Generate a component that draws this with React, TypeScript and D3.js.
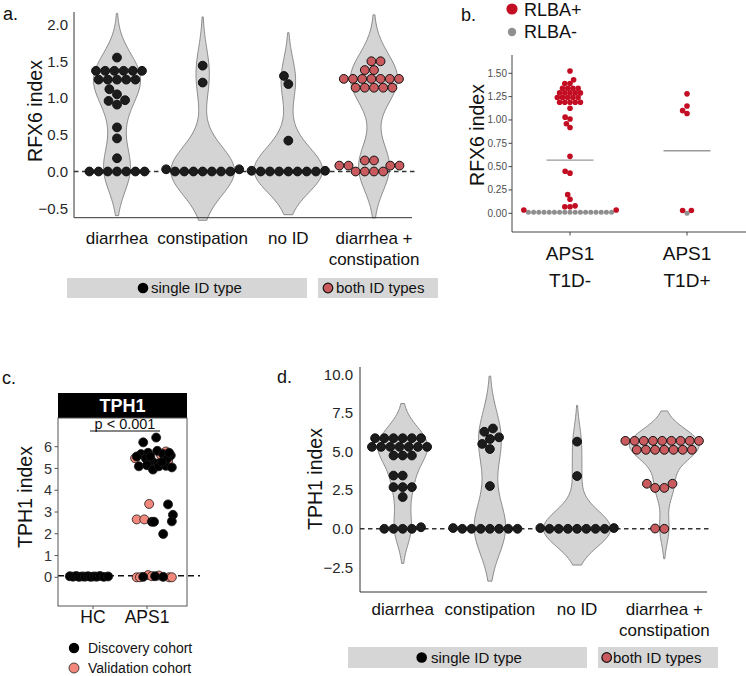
import React from "react";
import * as d3 from "d3";

const FONT = "'Liberation Sans', Arial, Helvetica, sans-serif";

// ---------- Panel a data (RFX6 index by ID type) ----------
const aCategories = ["diarrhea", "constipation", "no ID", "diarrhea + constipation"];
const aDiarrhea = [0, 0, 0, 0, 0, 0, 0, 0.18, 0.45, 0.6, 0.91, 0.96, 0.97, 1.05, 1.12, 1.25, 1.25, 1.25, 1.25, 1.25, 1.37, 1.37, 1.37, 1.37, 1.37, 1.37, 1.55];
const aConstipation = [0, 0, 0, 0, 0, 0, 0, 0.03, 0.03, 1.21, 1.44];
const aNoID = [0, 0, 0, 0, 0, 0, 0, 0.01, 0.01, 0.42, 1.19, 1.3];
const aBoth = [0, 0, 0, 0, 0.08, 0.08, 0.08, 0.08, 0.15, 0.15, 1.14, 1.14, 1.14, 1.14, 1.14, 1.26, 1.26, 1.26, 1.26, 1.26, 1.26, 1.26, 1.38, 1.38, 1.5, 1.5];
const aTicks = [-0.5, 0, 0.5, 1, 1.5, 2];

// ---------- Panel b data (RFX6 index, RLBA status) ----------
const bCategories = ["APS1 T1D-", "APS1 T1D+"];
const bNegRed = [1.525, 1.43, 1.39, 1.39, 1.34, 1.34, 1.34, 1.34, 1.29, 1.29, 1.29, 1.29, 1.29, 1.24, 1.24, 1.24, 1.24, 1.24, 1.19, 1.19, 1.19, 1.19, 1.19, 1.125, 1.03, 1.01, 0.96, 0.92, 0.61, 0.45, 0.43, 0.2, 0.15, 0.08, 0.07, 0.07, 0.036, 0.036];
const bNegGrey = [0.01, 0.01, 0.01, 0.01, 0.01, 0.01, 0.01, 0.01, 0.01, 0.01, 0.01, 0.01, 0.01, 0.01, 0.01, 0.01, 0.01];
const bPosRed = [1.28, 1.15, 1.1, 1.07, 0.03, 0.03];
const bPosGrey = [0.0];
const bMeans = [0.57, 0.67];
const bTicks = [0, 0.25, 0.5, 0.75, 1, 1.25, 1.5];

// ---------- Panel c data (TPH1 index, cohorts) ----------
const cCategories = ["HC", "APS1"];
const cHCDiscovery = [0.05, 0.03, 0.06, 0.02, 0.04, 0.03, 0.05, 0.02, 0.04, 0.03, 0.06, 0.02, 0.04];
const cHCDiscoveryJitter = [-0.43, -0.37, -0.31, -0.26, -0.2, -0.15, -0.09, -0.04, 0.02, 0.07, 0.13, 0.2, 0.28];
const cAPSDiscovery = [6.2, 6.42, 5.66, 5.72, 5.81, 5.66, 5.6, 5.46, 5.35, 5.23, 5.1, 5.15, 4.95, 5.1, 5.12, 5.05, 5.45, 5.3, 5.72, 5.55, 5.55, 3.35, 2.55, 2.55, 2.87, 2.57, 1.99, 0.02, 0.05, 0.02];
const cAPSDiscoveryJitter = [-0.07, 0.17, -0.11, 0.02, 0.19, 0.3, 0.44, -0.02, 0.09, 0.2, -0.15, 0, 0.11, 0.22, 0.35, 0.46, 0.37, 0.28, 0.41, 0.06, -0.19, 0.39, 0.09, 0.13, 0.48, 0.46, 0.3, -0.07, 0.15, 0.3];
const cAPSValidation = [5.47, 5.78, 5.5, 5.35, 5.62, 3.37, 2.66, 2.66, 0.0, 0.0, 0.1, 0.05, 0.08, 0.0, 0.0];
const cAPSValidationJitter = [-0.22, 0.35, 0.3, 0.39, 0.26, 0.04, -0.19, -0.05, -0.19, -0.13, 0.02, 0.09, 0.22, 0.41, 0.46];
const cTicks = [0, 1, 2, 3, 4, 5, 6];
const cRefLine = 0.07;

// ---------- Panel d data (TPH1 index by ID type) ----------
const dDiarrhea = [0, 0, 0, 0, 0.1, 2.06, 2.7, 2.7, 2.7, 3.45, 3.45, 4.75, 4.75, 4.75, 5.31, 5.31, 5.31, 5.31, 5.31, 5.31, 5.31, 5.87, 5.87, 5.87, 5.87, 5.87, 5.87];
const dConstipation = [0, 0, 0, 0, 0, 0, 0, 0.05, 2.77, 5.17, 5.5, 5.82, 5.93, 6.29, 6.5];
const dNoID = [0, 0, 0, 0, 0, 0, 0, 0.05, 0.05, 3.42, 5.65];
const dBoth = [0, 0.02, 2.65, 2.65, 2.92, 2.92, 5.12, 5.12, 5.12, 5.12, 5.12, 5.12, 5.12, 5.7, 5.7, 5.7, 5.7, 5.7, 5.7, 5.7, 5.7, 5.7];
const dTicks = [-2.5, 0, 2.5, 5, 7.5, 10];

const SINGLE = "#1c1c1c";
const BOTH = "#c95a5e";
const RED = "#c30d23";
const GREY = "#8f8f8f";
const PINK = "#f2877b";

function kde(vals: number[], cut = 2, grid = 100) {
  const n = vals.length;
  const sd = d3.deviation(vals) ?? 0;
  const bw = sd * Math.pow(n, -0.2);
  const lo = (d3.min(vals) as number) - cut * bw;
  const hi = (d3.max(vals) as number) + cut * bw;
  const norm = 1 / (bw * Math.sqrt(2 * Math.PI));
  return d3.range(grid).map((i) => {
    const y = lo + ((hi - lo) * i) / (grid - 1);
    const dens = (d3.mean(vals, (v) => Math.exp(-0.5 * ((y - v) / bw) ** 2)) as number) * norm;
    return { y, dens };
  });
}

function beeswarm(vals: number[], ypx: (v: number) => number, d: number): number[] {
  const idx = vals.map((_, i) => i).sort((a, b) => vals[a] - vals[b]);
  const placed: { x: number; y: number }[] = [];
  const out: number[] = new Array(vals.length).fill(0);
  for (const i of idx) {
    const y = ypx(vals[i]);
    const cands = [0];
    for (const p of placed) {
      const dy = Math.abs(p.y - y);
      if (dy < d) {
        const dx = Math.sqrt(d * d - dy * dy);
        cands.push(p.x + dx, p.x - dx);
      }
    }
    cands.sort((a, b) => Math.abs(a) - Math.abs(b) || a - b);
    let best = 0;
    for (const c of cands) {
      if (placed.every((p) => (p.x - c) ** 2 + (p.y - y) ** 2 >= d * d - 1e-3)) {
        best = c;
        break;
      }
    }
    placed.push({ x: best, y });
    out[i] = best;
  }
  return out;
}

type VProps = {
  cats: string[];
  groups: number[][];
  fills: string[];
  ticks: number[];
  y0: number;
  y1: number;
  yv1: number;
  xFirst: number;
  xLast: number;
  axisX: number;
  axisTop: number;
  axisBottom: number;
  axisRight: number;
  tickX: number;
  labelY: number;
  title: string;
  titleX: number;
  titleY: number;
  letter: string;
  letterX: number;
  letterY: number;
  leg: { y: number; h: number; r1: [number, number]; r2: [number, number]; c1: number; t1: number; c2: number; t2: number };
};

function ViolinPanel(p: VProps) {
  const y = d3.scaleLinear().domain([0, p.yv1]).range([p.y0, p.y1]);
  const x = d3.scalePoint<string>().domain(p.cats).range([p.xFirst, p.xLast]);
  const step = (p.xLast - p.xFirst) / (p.cats.length - 1);
  const halfW = 0.4 * step;
  const dens = p.groups.map((g) => kde(g));
  const maxD = d3.max(dens.flat(), (d) => d.dens) as number;
  const w = d3.scaleLinear().domain([0, maxD]).range([0, halfW]);
  const r = 4.4;
  const collide = 9.2;
  return (
    <g>
      {dens.map((dd, i) => {
        const cx = x(p.cats[i]) as number;
        const area = d3
          .area<{ y: number; dens: number }>()
          .y((d) => y(d.y))
          .x0((d) => cx - w(d.dens))
          .x1((d) => cx + w(d.dens));
        return <path key={i} d={area(dd) as string} fill="#d4d4d4" stroke="#8a8a8a" strokeWidth={1} />;
      })}
      <line x1={p.axisX} x2={p.axisRight + 4} y1={y(0)} y2={y(0)} stroke="#333" strokeWidth={1.4} strokeDasharray="4.5,3.5" />
      {p.groups.map((g, i) => {
        const cx = x(p.cats[i]) as number;
        const off = beeswarm(g, (v) => y(v), collide);
        return g.map((v, j) => (
          <circle key={`${i}-${j}`} cx={cx + off[j]} cy={y(v)} r={r} fill={p.fills[i]} stroke="#111" strokeWidth={1} />
        ));
      })}
      <line x1={p.axisX} x2={p.axisX} y1={p.axisTop} y2={p.axisBottom} stroke="#333" strokeWidth={1} />
      <line x1={p.axisX} x2={p.axisRight} y1={p.axisBottom} y2={p.axisBottom} stroke="#333" strokeWidth={1} />
      {p.ticks.map((t) => (
        <text key={t} x={p.tickX} y={y(t)} dy="0.35em" textAnchor="end" fontSize={15} fill="#262626">
          {t < 0 ? "\u2212" + Math.abs(t).toFixed(1) : t.toFixed(1)}
        </text>
      ))}
      {p.cats.map((c) => {
        const lines = c.includes("+") ? [c.slice(0, c.indexOf("+") + 1), c.slice(c.indexOf("+") + 2)] : [c];
        return lines.map((ln, k) => (
          <text key={c + k} x={x(c) as number} y={p.labelY + k * 21} textAnchor="middle" fontSize={17} fill="#111">
            {ln}
          </text>
        ));
      })}
      <text transform={`translate(${p.titleX},${p.titleY}) rotate(-90)`} textAnchor="middle" dy="0.35em" fontSize={19.5} fill="#111">
        {p.title}
      </text>
      <text x={p.letterX} y={p.letterY} fontSize={18} fill="#111">
        {p.letter}
      </text>
      <rect x={p.leg.r1[0]} y={p.leg.y} width={p.leg.r1[1] - p.leg.r1[0]} height={p.leg.h} fill="#d6d6d6" />
      <rect x={p.leg.r2[0]} y={p.leg.y} width={p.leg.r2[1] - p.leg.r2[0]} height={p.leg.h} fill="#d6d6d6" />
      <circle cx={p.leg.c1} cy={p.leg.y + p.leg.h / 2} r={5.3} fill="#000" />
      <text x={p.leg.t1} y={p.leg.y + p.leg.h / 2} dy="0.35em" fontSize={15} fill="#111">
        single ID type
      </text>
      <circle cx={p.leg.c2} cy={p.leg.y + p.leg.h / 2} r={4.8} fill={BOTH} stroke="#111" strokeWidth={1.2} />
      <text x={p.leg.t2} y={p.leg.y + p.leg.h / 2} dy="0.35em" fontSize={15} fill="#111">
        both ID types
      </text>
    </g>
  );
}

function PanelB() {
  const y = d3.scaleLinear().domain([0, 1.5]).range([213.3, 73.3]);
  const x = d3.scalePoint<string>().domain(bCategories).range([570, 687]);
  const groups = [
    { red: bNegRed, grey: bNegGrey },
    { red: bPosRed, grey: bPosGrey },
  ];
  return (
    <g>
      {groups.map((g, i) => {
        const cx = x(bCategories[i]) as number;
        const vals = [...g.grey, ...g.red];
        const off = beeswarm(vals, (v) => y(v), 5.2);
        return (
          <g key={i}>
            <line x1={cx - 23.5} x2={cx + 23.5} y1={y(bMeans[i])} y2={y(bMeans[i])} stroke="#9a9a9a" strokeWidth={1.3} />
            {vals.map((v, j) => (
              <circle key={j} cx={cx + off[j]} cy={y(v)} r={j < g.grey.length ? 2.5 : 2.8} fill={j < g.grey.length ? GREY : RED} />
            ))}
          </g>
        );
      })}
      <line x1={512} x2={512} y1={55} y2={232} stroke="#444" strokeWidth={1} />
      <line x1={512} x2={746} y1={232} y2={232} stroke="#444" strokeWidth={1} />
      {bTicks.map((t) => (
        <g key={t}>
          <line x1={508.5} x2={512} y1={y(t)} y2={y(t)} stroke="#444" />
          <text x={507} y={y(t)} dy="0.35em" textAnchor="end" fontSize={10} fill="#4d4d4d">
            {t.toFixed(2)}
          </text>
        </g>
      ))}
      {bCategories.map((c) => {
        const cx = x(c) as number;
        const [l1, l2] = c.split(" ");
        return (
          <g key={c}>
            <line x1={cx} x2={cx} y1={232} y2={235.5} stroke="#444" />
            <text x={cx} y={260} textAnchor="middle" fontSize={19} fill="#111">
              {l1}
            </text>
            <text x={cx} y={287} textAnchor="middle" fontSize={19} fill="#111">
              {l2}
            </text>
          </g>
        );
      })}
      <text transform="translate(477,135) rotate(-90)" textAnchor="middle" dy="0.35em" fontSize={19.5} fill="#111">
        RFX6 index
      </text>
      <text x={461} y={21} fontSize={18} fill="#111">
        b.
      </text>
      <circle cx={512} cy={9} r={5.6} fill={RED} />
      <text x={524} y={9.5} dy="0.36em" fontSize={18} fill="#111">
        RLBA+
      </text>
      <circle cx={512} cy={32} r={4.2} fill={GREY} />
      <text x={524} y={32} dy="0.36em" fontSize={18} fill="#111">
        RLBA-
      </text>
    </g>
  );
}

function PanelC() {
  const y = d3.scaleLinear().domain([0, 6]).range([577.3, 446.7]);
  const x = d3.scalePoint<string>().domain(cCategories).range([93, 147]);
  const j = d3.scaleLinear().domain([-0.5, 0.5]).range([-27, 27]);
  const dot = (cat: string, v: number, jit: number, fill: string, k: string) => (
    <circle key={k} cx={(x(cat) as number) + j(jit)} cy={y(v)} r={4.5} fill={fill} stroke="#1a1a1a" strokeWidth={0.8} />
  );
  return (
    <g>
      <text x={2} y={384} fontSize={18} fill="#111">
        c.
      </text>
      <rect x={58} y={393} width={129} height={25} fill="#000" />
      <text x={122.5} y={411.5} textAnchor="middle" fontSize={18} fontWeight="bold" fill="#fff">
        TPH1
      </text>
      <text x={125} y={429} textAnchor="middle" fontSize={14.5} fill="#111">
        p &lt; 0.001
      </text>
      <line x1={90} x2={160} y1={431} y2={431} stroke="#111" strokeWidth={1} />
      <line x1={58} x2={200} y1={y(cRefLine)} y2={y(cRefLine)} stroke="#111" strokeWidth={1.6} strokeDasharray="6,4" />
      {cAPSValidation.map((v, i) => dot("APS1", v, cAPSValidationJitter[i], PINK, "v" + i))}
      {cHCDiscovery.map((v, i) => dot("HC", v, cHCDiscoveryJitter[i], "#000", "h" + i))}
      {cAPSDiscovery.map((v, i) => dot("APS1", v, cAPSDiscoveryJitter[i], "#000", "a" + i))}
      <rect x={58} y={418} width={129} height={188} fill="none" stroke="#555" strokeWidth={1} />
      {cTicks.map((t) => (
        <g key={t}>
          <line x1={54.5} x2={58} y1={y(t)} y2={y(t)} stroke="#555" />
          <text x={52} y={y(t)} dy="0.35em" textAnchor="end" fontSize={14.5} fill="#333">
            {t}
          </text>
        </g>
      ))}
      {cCategories.map((c) => (
        <g key={c}>
          <line x1={x(c) as number} x2={x(c) as number} y1={606} y2={609} stroke="#555" />
          <text x={x(c) as number} y={623} textAnchor="middle" fontSize={17.5} fill="#111">
            {c}
          </text>
        </g>
      ))}
      <text transform="translate(25,497) rotate(-90)" textAnchor="middle" dy="0.35em" fontSize={19.5} fill="#111">
        TPH1 index
      </text>
      <circle cx={74} cy={648} r={5.2} fill="#000" />
      <text x={88} y={648} dy="0.35em" fontSize={14} fill="#111">
        Discovery cohort
      </text>
      <circle cx={74} cy={668} r={5} fill={PINK} stroke="#222" strokeWidth={0.8} />
      <text x={88} y={668} dy="0.35em" fontSize={14} fill="#111">
        Validation cohort
      </text>
    </g>
  );
}

export default function App() {
  return (
    <svg width={746} height={676} style={{ position: "absolute", left: 0, top: 0, background: "#fff" }} fontFamily={FONT}>
      <rect width={746} height={676} fill="#fff" />
      <ViolinPanel
        cats={aCategories}
        groups={[aDiarrhea, aConstipation, aNoID, aBoth]}
        fills={[SINGLE, SINGLE, SINGLE, BOTH]}
        ticks={aTicks}
        y0={171.5}
        y1={24.5}
        yv1={2}
        xFirst={117}
        xLast={374}
        axisX={74}
        axisTop={12}
        axisBottom={217.7}
        axisRight={412}
        tickX={68}
        labelY={244}
        title="RFX6 index"
        titleX={35}
        titleY={111}
        letter="a."
        letterX={3}
        letterY={20}
        leg={{ y: 278, h: 20, r1: [67, 307], r2: [318, 438], c1: 143, t1: 151, c2: 328, t2: 336 }}
      />
      <PanelB />
      <PanelC />
      <ViolinPanel
        cats={aCategories}
        groups={[dDiarrhea, dConstipation, dNoID, dBoth]}
        fills={[SINGLE, SINGLE, SINGLE, BOTH]}
        ticks={dTicks}
        y0={528.8}
        y1={374.5}
        yv1={10}
        xFirst={402.7}
        xLast={664.3}
        axisX={360}
        axisTop={367}
        axisBottom={592}
        axisRight={707}
        tickX={353}
        labelY={615}
        title="TPH1 index"
        titleX={315}
        titleY={479}
        letter="d."
        letterX={277}
        letterY={383}
        leg={{ y: 647, h: 21, r1: [348, 587], r2: [598, 718], c1: 421.7, t1: 431, c2: 606.7, t2: 613 }}
      />
    </svg>
  );
}
